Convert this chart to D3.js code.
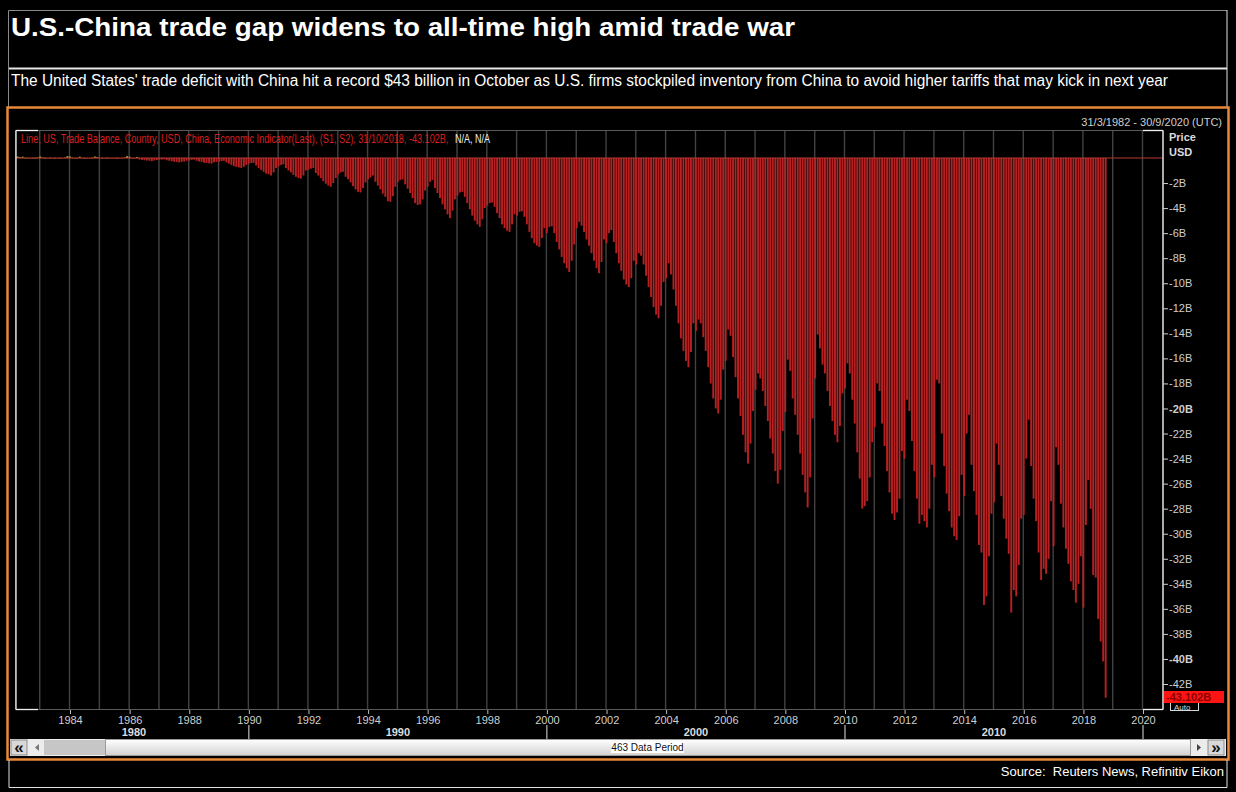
<!DOCTYPE html>
<html>
<head>
<meta charset="utf-8">
<script src="https://cdn.jsdelivr.net/npm/d3@7"></script>
<style>
  body { margin: 0; background: #000; }
  svg { display: block; font-family: "Liberation Sans", Arial, sans-serif; }
</style>
</head>
<body>
<svg id="chart" width="1236" height="792"></svg>
<script>
// US trade balance with China, USD billions, monthly, first value April 1982
const bal1980s = [
  [0.12, 0.08, 0.10, 0.02, 0.01, -0.02, 0.02, 0.01, 0.03],
  [0.12, 0.04, 0.01, -0.02, 0.02, -0.01, 0.01, -0.02, 0.02, -0.01, 0.03, 0.15],
  [0.12, 0.02, -0.02, 0.01, 0.10, -0.02, 0.01, -0.03, -0.02, 0.02, 0.12, 0.08],
  [-0.02, 0.01, -0.03, 0.02, -0.04, -0.02, -0.03, 0.01, -0.02, -0.04, 0.05, 0.15],
  [0.10, -0.04, -0.06, 0.08, -0.12, -0.15, -0.18, -0.20, -0.22, -0.25, -0.20, -0.16],
  [-0.15, -0.12, -0.10, -0.18, -0.22, -0.25, -0.30, -0.32, -0.35, -0.30, -0.28, -0.22],
  [-0.20, -0.15, -0.12, -0.22, -0.28, -0.30, -0.38, -0.40, -0.42, -0.45, -0.35, -0.30],
  [-0.30, -0.25, -0.22, -0.35, -0.45, -0.55, -0.65, -0.72, -0.75, -0.80, -0.70, -0.55]
];
const bal1990s = [
  [-0.45, -0.40, -0.38, -0.60, -0.80, -0.95, -1.10, -1.25, -1.30, -1.40, -1.15, -0.80],
  [-0.65, -0.55, -0.50, -0.80, -1.00, -1.15, -1.35, -1.50, -1.60, -1.65, -1.40, -1.00],
  [-0.95, -0.85, -0.80, -1.20, -1.40, -1.60, -1.85, -2.05, -2.20, -2.30, -2.00, -1.60],
  [-1.30, -1.15, -1.10, -1.50, -1.70, -1.95, -2.25, -2.50, -2.70, -2.75, -2.40, -1.95],
  [-1.70, -1.55, -1.40, -1.90, -2.20, -2.50, -2.85, -3.10, -3.45, -3.50, -3.05, -2.30],
  [-1.90, -1.75, -1.70, -2.10, -2.45, -2.80, -3.20, -3.60, -3.75, -3.70, -3.30, -2.60],
  [-2.30, -1.90, -1.75, -2.40, -2.80, -3.20, -3.70, -4.10, -4.50, -4.80, -4.20, -3.30],
  [-3.00, -2.75, -2.70, -3.10, -3.60, -4.10, -4.60, -5.00, -5.30, -5.50, -4.90, -4.00],
  [-3.80, -3.60, -3.55, -3.90, -4.40, -4.80, -5.30, -5.60, -5.80, -5.90, -5.30, -4.50],
  [-4.60, -4.30, -4.25, -4.70, -5.30, -5.90, -6.40, -6.80, -7.00, -7.10, -6.40, -5.60]
];
const bal2000s = [
  [-6.00, -5.50, -5.45, -6.00, -6.70, -7.30, -7.90, -8.40, -8.80, -9.10, -8.20, -6.90],
  [-5.60, -5.10, -5.40, -5.90, -6.50, -7.00, -7.60, -8.20, -8.80, -9.20, -8.30, -6.50],
  [-6.80, -6.00, -5.75, -6.70, -7.60, -8.40, -9.00, -9.70, -10.10, -10.30, -9.60, -8.20],
  [-8.50, -7.60, -7.80, -8.50, -9.40, -10.30, -11.10, -11.90, -12.50, -12.80, -11.80, -9.90],
  [-9.60, -8.40, -9.30, -10.50, -11.80, -13.20, -14.40, -15.40, -16.20, -16.70, -15.50, -13.20],
  [-13.80, -12.90, -13.20, -14.30, -15.40, -16.70, -18.00, -19.20, -20.00, -20.40, -19.30, -16.90],
  [-16.20, -13.70, -14.20, -15.90, -17.50, -19.20, -20.60, -22.10, -23.50, -24.40, -22.80, -20.20],
  [-18.50, -17.20, -17.60, -18.60, -19.80, -21.00, -22.40, -23.60, -25.00, -26.00, -24.90, -21.80],
  [-20.30, -16.10, -17.00, -19.20, -20.50, -22.10, -23.60, -25.30, -26.70, -27.90, -25.50, -20.80],
  [-17.60, -14.10, -15.20, -16.50, -17.20, -18.60, -19.80, -21.00, -22.10, -22.70, -21.40, -18.80]
];
const bal2010s = [
  [-18.40, -16.40, -17.20, -19.30, -21.20, -23.50, -25.60, -28.00, -27.80, -27.40, -25.50, -22.70],
  [-21.50, -18.00, -18.60, -21.20, -23.00, -25.00, -26.70, -28.40, -28.90, -28.30, -27.20, -23.40],
  [-24.00, -19.30, -20.20, -22.60, -25.00, -27.20, -29.20, -28.50, -29.00, -29.50, -28.00, -24.50],
  [-25.50, -17.70, -18.00, -22.00, -24.60, -26.80, -28.20, -29.50, -30.20, -30.50, -28.60, -25.30],
  [-27.00, -22.00, -20.50, -24.50, -26.60, -28.50, -30.90, -31.50, -35.70, -35.00, -31.80, -28.40],
  [-27.50, -22.80, -24.50, -27.00, -28.80, -30.40, -31.60, -36.30, -34.50, -35.00, -32.50, -28.80],
  [-28.50, -24.00, -20.90, -24.60, -27.20, -29.00, -31.50, -33.70, -32.80, -33.20, -32.00, -27.40],
  [-31.00, -23.10, -24.50, -27.60, -29.50, -31.20, -32.40, -33.80, -34.50, -35.50, -34.00, -31.80],
  [-35.90, -29.30, -25.70, -28.00, -33.30, -33.50, -36.80, -38.60, -40.20, -43.10]
];

const yTicks = [-2, -4, -6, -8, -10, -12, -14, -16, -18, -20, -22, -24, -26, -28, -30,
  -32, -34, -36, -38, -40, -42];
const yearTicks = [1984, 1986, 1988, 1990, 1992, 1994, 1996, 1998, 2000, 2002, 2004,
  2006, 2008, 2010, 2012, 2014, 2016, 2018, 2020];
const decadeLabels = ['1980', '1990', '2000', '2010'];
const decadeBreaks = [1990, 2000, 2010, 2020];

const title = 'U.S.-China trade gap widens to all-time high amid trade war';
const subtitle = "The United States' trade deficit with China hit a record $43 billion in October as U.S. firms stockpiled inventory from China to avoid higher tariffs that may kick in next year";
const legendText = 'Line, US, Trade Balance, Country, USD, China, Economic Indicator(Last), (S1, S2), 31/10/2018, -43.102B,';
const legendTail = 'N/A, N/A';
const lastValue = '-43.102B';
const source = 'Source:\u00a0 Reuters News, Refinitiv Eikon';

const startDate = new Date(1982, 3, 1);
const balance = [...bal1980s, ...bal1990s, ...bal2000s, ...bal2010s].flat();
const data = balance.map((v, i) => ({ date: d3.timeMonth.offset(startDate, i), value: v }));

const svg = d3.select('#chart');

// plot geometry
const plotLeft = 16, plotRight = 1163, plotTop = 130, plotBottom = 709;

const x = d3.scaleTime()
  .domain([new Date(1984, 0, 1), new Date(2020, 0, 1)])
  .range([70, 1143]);

const y = d3.scaleLinear()
  .domain([0, -42])
  .range([158, 684]);

// squeeze a text horizontally into a given width (the Eikon font is narrow)
const fitText = (sel, x0, y0, width) => {
  const natural = sel.node().getComputedTextLength();
  sel.attr('transform', 'translate(' + x0 + ',' + y0 + ') scale(' + (width / natural) + ',1)');
};

// ---------- header ----------
svg.append('path')
  .attr('d', 'M8.5,107 V10.5 H1227')
  .attr('fill', 'none')
  .attr('stroke', '#8a8a8a');
svg.append('line')
  .attr('x1', 1227).attr('x2', 1227).attr('y1', 10).attr('y2', 107)
  .attr('stroke', '#e0e0e0');
svg.append('line')
  .attr('x1', 9).attr('x2', 1227).attr('y1', 68.5).attr('y2', 68.5)
  .attr('stroke', '#e6e6e6').attr('stroke-width', 2);

svg.append('text')
  .attr('x', 11).attr('y', 36)
  .attr('fill', '#fff')
  .attr('font-size', 25)
  .attr('font-weight', 'bold')
  .attr('textLength', 784)
  .attr('lengthAdjust', 'spacingAndGlyphs')
  .text(title);

svg.append('text')
  .attr('x', 11).attr('y', 86)
  .attr('fill', '#fff')
  .attr('font-size', 16)
  .attr('textLength', 1157)
  .attr('lengthAdjust', 'spacingAndGlyphs')
  .text(subtitle);

// ---------- chart frame ----------
svg.append('rect')
  .attr('x', 7.5).attr('y', 107.5)
  .attr('width', 1221).attr('height', 652)
  .attr('fill', 'none')
  .attr('stroke', '#e8883a')
  .attr('stroke-width', 2.5);

svg.append('text')
  .attr('x', 1222).attr('y', 126)
  .attr('text-anchor', 'end')
  .attr('fill', '#cfcfcf')
  .attr('font-size', 11)
  .text('31/3/1982 - 30/9/2020 (UTC)');

// vertical year gridlines
const gridYears = d3.range(1983, 2021);
svg.append('g')
  .selectAll('line')
  .data(gridYears)
  .enter()
  .append('line')
  .attr('x1', d => x(new Date(d, 0, 1)) - 0.5)
  .attr('x2', d => x(new Date(d, 0, 1)) - 0.5)
  .attr('y1', plotTop)
  .attr('y2', plotBottom)
  .attr('stroke', '#424242')
  .attr('stroke-width', 1.4);

// bars
svg.append('g')
  .selectAll('rect')
  .data(data)
  .enter()
  .append('rect')
  .attr('x', d => x(d.date) - 1)
  .attr('width', 1.9)
  .attr('y', d => Math.min(y(0), y(d.value)))
  .attr('height', d => Math.max(0.6, Math.abs(y(d.value) - y(0))))
  .attr('fill', d => (d.value > 0 ? '#a9a23a' : '#b82122'));

// zero line
svg.append('line')
  .attr('x1', plotLeft).attr('x2', plotRight)
  .attr('y1', y(0)).attr('y2', y(0))
  .attr('stroke', '#b83a32')
  .attr('stroke-width', 1.2);

// plot border
svg.append('rect')
  .attr('x', plotLeft - 0.5).attr('y', plotTop + 0.5)
  .attr('width', plotRight - plotLeft + 0.5).attr('height', plotBottom - plotTop)
  .attr('fill', 'none')
  .attr('stroke', '#5a5a5a');
const frameWhite = [
  [plotLeft, plotTop, plotLeft, plotBottom], [plotRight, plotTop, plotRight, plotBottom],
  [plotLeft, plotTop, 38, plotTop], [1143, plotTop, plotRight, plotTop],
  [plotLeft, plotBottom, 38, plotBottom], [1143, plotBottom, plotRight, plotBottom]
];
svg.append('g')
  .selectAll('line')
  .data(frameWhite)
  .enter()
  .append('line')
  .attr('x1', d => d[0]).attr('y1', d => d[1] + 0.5)
  .attr('x2', d => d[2]).attr('y2', d => d[3] + 0.5)
  .attr('stroke', '#f2f2f2')
  .attr('stroke-width', 1.3);

// legend line
const legendMain = svg.append('text')
  .attr('font-size', 12)
  .attr('fill', '#d81f1f')
  .text(legendText);
fitText(legendMain, 21, 143, 428);
const legendEnd = svg.append('text')
  .attr('font-size', 12)
  .attr('fill', '#f0f0f0')
  .text(legendTail);
fitText(legendEnd, 455, 143, 35);

// ---------- right axis ----------
svg.append('text')
  .attr('x', 1169).attr('y', 141)
  .attr('fill', '#dcdcdc').attr('font-size', 11).attr('font-weight', 'bold')
  .text('Price');
svg.append('text')
  .attr('x', 1169).attr('y', 156)
  .attr('fill', '#dcdcdc').attr('font-size', 11).attr('font-weight', 'bold')
  .text('USD');

const yAxis = svg.append('g')
  .attr('transform', 'translate(' + plotRight + ',0)')
  .call(d3.axisRight(y).tickValues(yTicks).tickSize(5).tickPadding(1)
    .tickFormat(d => d + 'B'));
yAxis.select('.domain').remove();
yAxis.selectAll('line').attr('stroke', '#cfcfcf');
yAxis.selectAll('text')
  .attr('fill', '#cfcfcf')
  .attr('font-size', 11)
  .attr('font-family', '"Liberation Sans", Arial, sans-serif')
  .attr('font-weight', d => (d === -20 || d === -40 ? 'bold' : 'normal'));

// Auto button peeking out under the last value box
svg.append('rect')
  .attr('x', 1170.5).attr('y', 701.5).attr('width', 28).attr('height', 9)
  .attr('fill', '#000').attr('stroke', '#d8d8d8');
svg.append('text')
  .attr('x', 1174).attr('y', 710)
  .attr('fill', '#d8d8d8').attr('font-size', 8)
  .text('Auto');
svg.append('rect')
  .attr('x', 1164).attr('y', 691)
  .attr('width', 60).attr('height', 12)
  .attr('fill', '#ff1414');
svg.append('text')
  .attr('x', 1166).attr('y', 701)
  .attr('fill', '#8c0000').attr('font-size', 11).attr('font-weight', 'bold')
  .text(lastValue);

// ---------- bottom axis ----------
const xAxis = svg.append('g')
  .attr('transform', 'translate(0,' + (plotBottom + 1) + ')')
  .call(d3.axisBottom(x)
    .tickValues(yearTicks.map(d => new Date(d, 0, 1)))
    .tickSize(4).tickPadding(2)
    .tickFormat(d3.timeFormat('%Y')));
xAxis.select('.domain').remove();
xAxis.selectAll('line').attr('stroke', '#bdbdbd');
xAxis.selectAll('text')
  .attr('fill', '#cfcfcf')
  .attr('font-size', 11)
  .attr('font-family', '"Liberation Sans", Arial, sans-serif');

svg.append('g')
  .selectAll('line')
  .data(decadeBreaks)
  .enter()
  .append('line')
  .attr('x1', d => x(new Date(d, 0, 1)))
  .attr('x2', d => x(new Date(d, 0, 1)))
  .attr('y1', 725).attr('y2', 739)
  .attr('stroke', '#e0e0e0');

svg.append('g')
  .selectAll('text')
  .data(decadeLabels)
  .enter()
  .append('text')
  .attr('x', (d, i) => i === 0 ? 134 : x(new Date(+d + 5, 0, 1)))
  .attr('y', 736)
  .attr('text-anchor', 'middle')
  .attr('fill', '#dcdcdc')
  .attr('font-size', 11)
  .attr('font-weight', 'bold')
  .text(d => d);

// ---------- scroll bar ----------
const grad = svg.append('defs').append('linearGradient')
  .attr('id', 'thumb').attr('x1', 0).attr('x2', 0).attr('y1', 0).attr('y2', 1);
grad.append('stop').attr('offset', '0%').attr('stop-color', '#ffffff');
grad.append('stop').attr('offset', '100%').attr('stop-color', '#d2d2d2');

svg.append('rect')
  .attr('x', 10).attr('y', 739).attr('width', 1216).attr('height', 17)
  .attr('fill', '#ececec');
svg.append('rect')
  .attr('x', 44).attr('y', 740).attr('width', 62).attr('height', 15)
  .attr('fill', '#c6c6c6');
svg.append('rect')
  .attr('x', 105.5).attr('y', 739.5).attr('width', 1085).attr('height', 16)
  .attr('fill', 'url(#thumb)').attr('stroke', '#9a9a9a');
svg.append('rect')
  .attr('x', 11).attr('y', 740).attr('width', 16).attr('height', 15)
  .attr('fill', '#d8d8d8').attr('stroke', '#8c8c8c');
svg.append('rect')
  .attr('x', 1208).attr('y', 740).attr('width', 16).attr('height', 15)
  .attr('fill', '#d8d8d8').attr('stroke', '#8c8c8c');
svg.append('text')
  .attr('x', 19).attr('y', 753).attr('text-anchor', 'middle')
  .attr('font-size', 17).attr('font-weight', 'bold').attr('fill', '#111')
  .text('«');
svg.append('text')
  .attr('x', 1216).attr('y', 753).attr('text-anchor', 'middle')
  .attr('font-size', 17).attr('font-weight', 'bold').attr('fill', '#111')
  .text('»');
svg.append('path').attr('d', 'M39,744 L35,747.5 L39,751 Z').attr('fill', '#777');
svg.append('path').attr('d', 'M1197,744 L1201,747.5 L1197,751 Z').attr('fill', '#444');

svg.append('rect')
  .attr('x', 611).attr('y', 742).attr('width', 73).attr('height', 11)
  .attr('fill', '#fff');
svg.append('text')
  .attr('x', 647.5).attr('y', 751).attr('text-anchor', 'middle')
  .attr('font-size', 10).attr('fill', '#111')
  .text('463 Data Period');

// ---------- footer ----------
svg.append('path')
  .attr('d', 'M9,760 V787.5 H1227 V760')
  .attr('fill', 'none')
  .attr('stroke', '#e0e0e0');
svg.append('text')
  .attr('x', 1224).attr('y', 776)
  .attr('text-anchor', 'end')
  .attr('fill', '#fff')
  .attr('font-size', 13)
  .text(source);
</script>
</body>
</html>
